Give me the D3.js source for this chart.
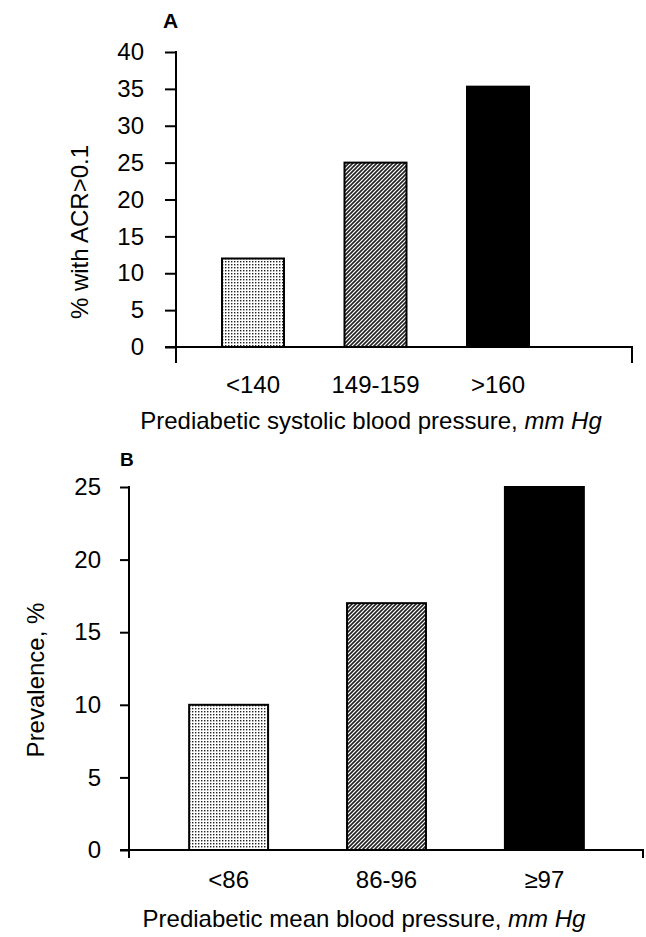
<!DOCTYPE html>
<html>
<head>
<meta charset="utf-8">
<script src="https://cdn.jsdelivr.net/npm/d3@7/dist/d3.min.js"></script>
<style>
  html, body { margin: 0; padding: 0; background: #fff; }
  svg { display: block; }
  text { font-family: "Liberation Sans", Arial, Helvetica, sans-serif; fill: #000; }
</style>
</head>
<body>
<svg id="chart" width="646" height="937"></svg>
<script>
// ---- Data ----
const categoriesA = ["<140", "149-159", ">160"];
const valuesA = [12, 25, 35.3];
const ticksA = [0, 5, 10, 15, 20, 25, 30, 35, 40];
const yLabelA = "% with ACR>0.1";
const xTitleA = ["Prediabetic systolic blood pressure, ", "mm Hg"];

const categoriesB = ["<86", "86-96", "\u226597"];
const valuesB = [10, 17, 25];
const ticksB = [0, 5, 10, 15, 20, 25];
const yLabelB = "Prevalence, %";
const xTitleB = ["Prediabetic mean blood pressure, ", "mm Hg"];

const fills = ["url(#dots)", "url(#hatch)", "#000"];
const FS = "24px";

const svg = d3.select("#chart");
const defs = svg.append("defs");

// light dotted pattern
const p1 = defs.append("pattern").attr("id", "dots")
  .attr("patternUnits", "userSpaceOnUse").attr("width", 3).attr("height", 3);
p1.append("rect").attr("width", 3).attr("height", 3).attr("fill", "#fff");
p1.append("rect").attr("x", 0).attr("y", 0).attr("width", 1.4).attr("height", 1.4).attr("fill", "#222");

// dense diagonal hatch pattern
const p2 = defs.append("pattern").attr("id", "hatch")
  .attr("patternUnits", "userSpaceOnUse").attr("width", 4).attr("height", 4);
p2.append("rect").attr("width", 4).attr("height", 4).attr("fill", "#fff");
p2.append("path").attr("d", "M-1,1 l2,-2 M0,4 l4,-4 M3,5 l2,-2")
  .attr("stroke", "#222").attr("stroke-width", 1.6);

function panel(cfg) {
  const g = svg.append("g");
  const x = d3.scaleBand().domain(cfg.cats).range(cfg.xRange)
    .paddingInner(cfg.padInner).paddingOuter(cfg.padOuter);
  const y = d3.scaleLinear().domain([0, d3.max(cfg.ticks)]).range(cfg.yRange);

  // bars
  g.selectAll("rect.bar").data(cfg.vals).join("rect")
    .attr("class", "bar")
    .attr("x", (d, i) => x(cfg.cats[i]))
    .attr("y", d => y(d))
    .attr("width", x.bandwidth())
    .attr("height", d => y(0) - y(d))
    .attr("fill", (d, i) => fills[i])
    .attr("stroke", "#000")
    .attr("stroke-width", 2);

  // y axis (ticks + labels)
  const ya = g.append("g").attr("transform", `translate(${cfg.axisX},0)`)
    .call(d3.axisLeft(y).tickValues(cfg.ticks).tickSize(cfg.tickLen).tickPadding(cfg.yPad));
  ya.select(".domain").remove();
  ya.selectAll(".tick line").attr("stroke", "#000").attr("stroke-width", 2);
  ya.selectAll(".tick text").style("font-size", FS).attr("font-family", null);

  // axis lines
  const y0 = y(0);
  g.append("path")
    .attr("d", `M${cfg.axisX},${y(d3.max(cfg.ticks)) - 1}V${y0 + cfg.drop}`)
    .attr("stroke", "#000").attr("stroke-width", 2).attr("fill", "none");
  g.append("path")
    .attr("d", `M${cfg.axisX - cfg.tickLen},${y0}H${cfg.xEnd}V${y0 + cfg.drop}`)
    .attr("stroke", "#000").attr("stroke-width", 2).attr("fill", "none");

  // x axis labels
  const xa = g.append("g").attr("transform", `translate(0,${y0})`)
    .call(d3.axisBottom(x).tickSize(0).tickPadding(cfg.xPad));
  xa.select(".domain").remove();
  xa.selectAll(".tick text").style("font-size", FS).attr("font-family", null);

  // y label
  g.append("text")
    .attr("transform", `translate(${cfg.yLabelX},${cfg.yLabelY}) rotate(-90)`)
    .attr("text-anchor", "middle")
    .attr("dominant-baseline", "central")
    .style("font-size", FS)
    .text(cfg.yLabel);

  // x title
  const t = g.append("text")
    .attr("x", cfg.titleX).attr("y", cfg.titleY)
    .attr("text-anchor", "middle")
    .style("font-size", FS);
  t.append("tspan").text(cfg.title[0]);
  t.append("tspan").style("font-style", "italic").text(cfg.title[1]);

  // panel letter
  g.append("text").attr("x", cfg.letterX).attr("y", cfg.letterY)
    .style("font-size", cfg.letterSize).style("font-weight", "bold").text(cfg.letter);
}

panel({
  cats: categoriesA, vals: valuesA, ticks: ticksA,
  xRange: [173, 578], padInner: 0.494, padOuter: 0.4,
  yRange: [347, 52], axisX: 176, tickLen: 11, yPad: 21, drop: 16, xEnd: 632,
  xPad: 29, yLabel: yLabelA, yLabelX: 79, yLabelY: 232,
  title: xTitleA, titleX: 371, titleY: 429,
  letter: "A", letterX: 163, letterY: 28, letterSize: "21px"
});

panel({
  cats: categoriesB, vals: valuesB, ticks: ticksB,
  xRange: [126, 647], padInner: 0.5, padOuter: 0.4,
  yRange: [850, 487], axisX: 129, tickLen: 9, yPad: 19, drop: 8, xEnd: 643,
  xPad: 21, yLabel: yLabelB, yLabelX: 35, yLabelY: 680,
  title: xTitleB, titleX: 364, titleY: 927,
  letter: "B", letterX: 120, letterY: 466, letterSize: "19px"
});
</script>
</body>
</html>
